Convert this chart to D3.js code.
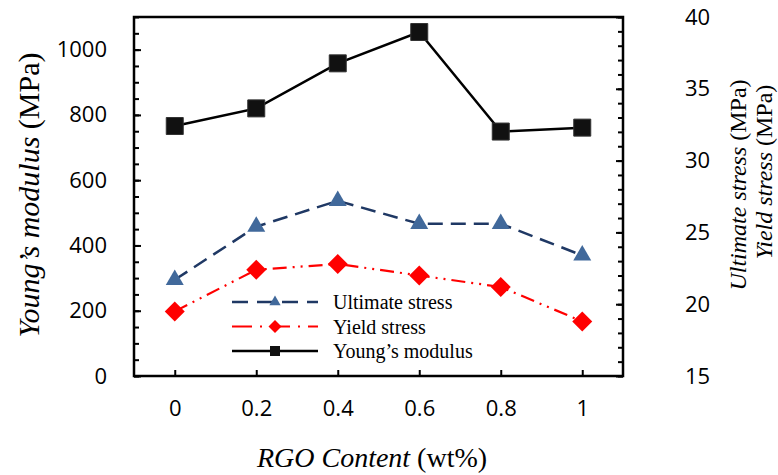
<!DOCTYPE html>
<html>
<head>
<meta charset="utf-8">
<script src="https://cdn.jsdelivr.net/npm/d3@7"></script>
<style>
  body { margin: 0; background: #fff; }
  svg { display: block; }
</style>
</head>
<body>
<div id="chart"></div>
<script>
// valeurs
const rgo = [0, 0.2, 0.4, 0.6, 0.8, 1];
const youngs = [766, 820, 958, 1054, 749, 761];
const ultimate = [21.7, 25.4, 27.2, 25.6, 25.6, 23.4];
const yieldStress = [19.5, 22.4, 22.8, 22.0, 21.2, 18.8];
const xTicks = [0, 0.2, 0.4, 0.6, 0.8, 1];
const leftTicks = [0, 200, 400, 600, 800, 1000];
const rightTicks = [15, 20, 25, 30, 35, 40];

const W = 778, H = 475;
const margin = { top: 17, right: 155, bottom: 99, left: 134 };
const width = W - margin.left - margin.right;
const height = H - margin.top - margin.bottom;

const svg = d3.select("#chart").append("svg")
  .attr("width", W)
  .attr("height", H);

const g = svg.append("g")
  .attr("transform", `translate(${margin.left},${margin.top})`);

const x = d3.scaleLinear().domain([-0.1, 1.1]).range([0, width]);
const yL = d3.scaleLinear().domain([0, 1100]).range([height, 0]);
const yR = d3.scaleLinear().domain([15, 40]).range([height, 0]);

const tickFont = "'Open Sans', sans-serif";
const serif = "'Liberation Serif', 'Times New Roman', serif";

function styleAxis(sel) {
  sel.select(".domain").remove();
  sel.selectAll("line").attr("stroke", "#000").attr("stroke-width", 2);
  sel.selectAll("text").attr("font-family", tickFont).attr("font-size", 22).attr("fill", "#000");
}

// ticks mineurs
g.append("g")
  .call(d3.axisLeft(yL).tickValues(d3.range(0, 1101, 50)).tickSize(-5).tickFormat(""))
  .call(styleAxis);
g.append("g")
  .attr("transform", `translate(${width},0)`)
  .call(d3.axisRight(yR).tickValues(d3.range(15, 41, 1)).tickSize(-5).tickFormat(""))
  .call(styleAxis);

// ticks majeurs
g.append("g")
  .call(d3.axisLeft(yL).tickValues(leftTicks).tickSize(-7).tickPadding(27).tickFormat(d3.format("")))
  .call(styleAxis);
g.append("g")
  .attr("transform", `translate(${width},0)`)
  .call(d3.axisRight(yR).tickValues(rightTicks).tickSize(-7).tickPadding(62))
  .call(styleAxis);
g.append("g")
  .attr("transform", `translate(0,${height})`)
  .call(d3.axisBottom(x).tickValues(xTicks).tickSize(-6).tickPadding(24).tickFormat(d3.format("")))
  .call(styleAxis);

// cadre
g.append("rect")
  .attr("width", width)
  .attr("height", height)
  .attr("fill", "none")
  .attr("stroke", "#000")
  .attr("stroke-width", 2.5);

const series = [
  { name: "Ultimate stress", values: ultimate, y: yR, stroke: "#1f3864", fill: "#41699b",
    dash: "15,8", width: 2.5, symbol: d3.symbolTriangle, size: 140, legendSize: 55, rotate: 0 },
  { name: "Yield stress", values: yieldStress, y: yR, stroke: "#ff0000", fill: "#ff0000",
    dash: "14,6,2,6,2,6", width: 2.2, symbol: d3.symbolSquare, size: 200, legendSize: 85, rotate: 45 },
  { name: "Young\u2019s modulus", values: youngs, y: yL, stroke: "#000", fill: "#111",
    dash: null, width: 2.5, symbol: d3.symbolSquare, size: 289, legendSize: 100, rotate: 0 }
];

// ordre de dessin : rouge, bleu, noir
[series[1], series[0], series[2]].forEach(s => {
  const pts = rgo.map((r, i) => [x(r), s.y(s.values[i])]);
  g.append("path")
    .attr("d", d3.line()(pts))
    .attr("fill", "none")
    .attr("stroke", s.stroke)
    .attr("stroke-width", s.width)
    .attr("stroke-dasharray", s.dash);
  g.selectAll(null)
    .data(pts)
    .enter().append("path")
    .attr("d", d3.symbol().type(s.symbol).size(s.size))
    .attr("transform", d => `translate(${d[0]},${d[1]}) rotate(${s.rotate})`)
    .attr("fill", s.fill)
    .attr("stroke", s.fill === "#111" ? "#333" : "none");
});

// légende
const legend = svg.append("g").attr("transform", "translate(232,302)");
series.forEach((s, i) => {
  const row = legend.append("g").attr("transform", `translate(0,${i * 24.5})`);
  row.append("line")
    .attr("x1", 0).attr("x2", 86)
    .attr("stroke", s.stroke)
    .attr("stroke-width", s.width)
    .attr("stroke-dasharray", i === 0 ? "16,9" : i === 1 ? "20,8,2,8" : null);
  row.append("path")
    .attr("d", d3.symbol().type(s.symbol).size(s.legendSize))
    .attr("transform", `translate(43,0) rotate(${s.rotate})`)
    .attr("fill", s.fill);
  row.append("text")
    .attr("x", 101)
    .attr("dy", "0.35em")
    .attr("font-family", serif)
    .attr("font-size", 20)
    .text(s.name);
});

// titres des axes (partie italique + unité droite)
function axisTitle(transform, italicPart, normalPart, size) {
  const txt = svg.append("text")
    .attr("transform", transform)
    .attr("dy", "0.35em")
    .attr("text-anchor", "middle")
    .attr("font-family", serif)
    .attr("font-size", size);
  txt.append("tspan").attr("font-style", "italic").text(italicPart);
  txt.append("tspan").text("\u00a0" + normalPart);
}

axisTitle("translate(372,457)", "RGO Content", "(wt%)", 28);
axisTitle("translate(28,195) rotate(-90)", "Young\u2019s modulus", "(MPa)", 30);
axisTitle("translate(738,185) rotate(-90)", "Ultimate stress", "(MPa)", 24);
axisTitle("translate(764,172) rotate(-90)", "Yield stress", "(MPa)", 24);
</script>
</body>
</html>
